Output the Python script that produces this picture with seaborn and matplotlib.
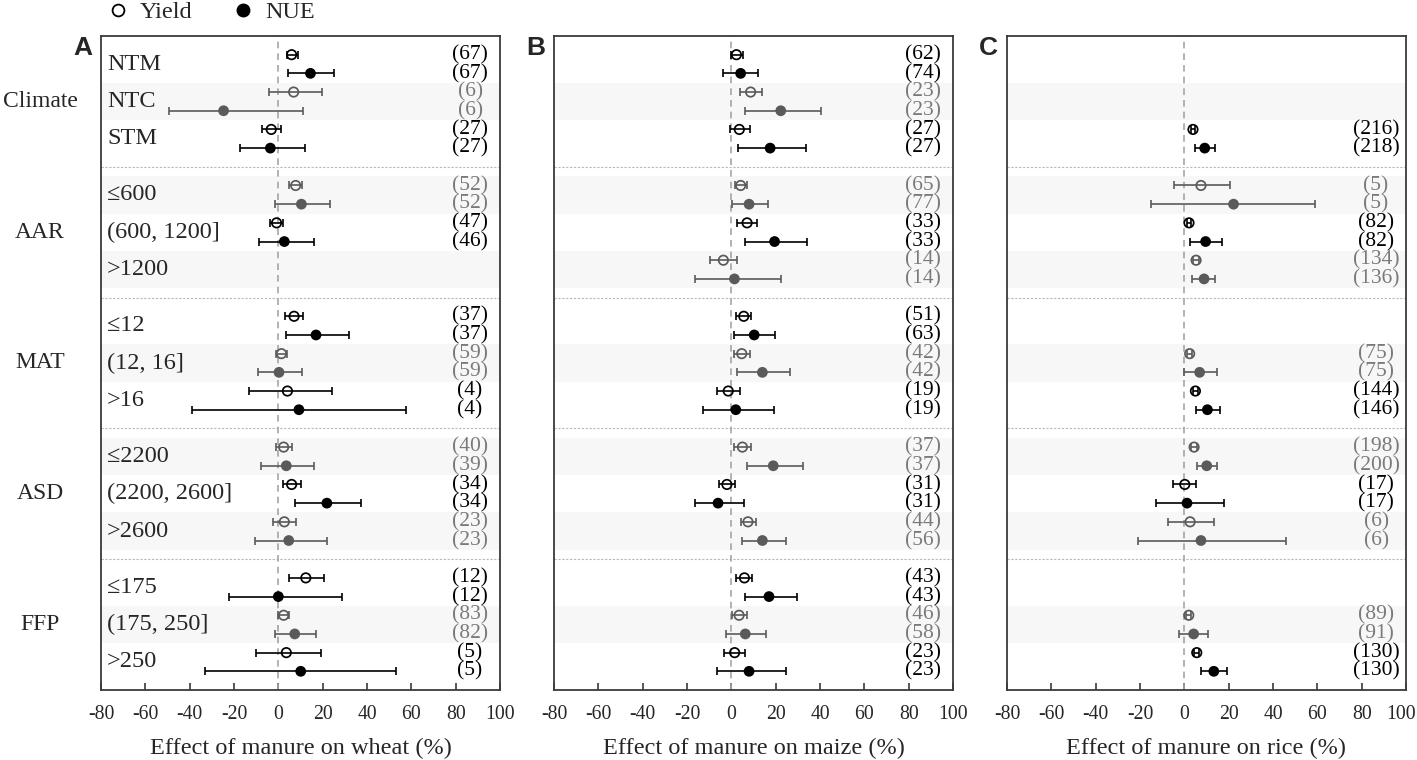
import numpy as np
import pandas as pd
import matplotlib
matplotlib.use("Agg")
import matplotlib.pyplot as plt
import seaborn as sns
from matplotlib.lines import Line2D
import matplotlib.transforms as mtransforms

nan = np.nan

groups = ["Climate", "AAR", "MAT", "ASD", "FFP"]
subgroups = ["NTM", "NTC", "STM",
             "≤600", "(600, 1200]", ">1200",
             "≤12", "(12, 16]", ">16",
             "≤2200", "(2200, 2600]", ">2600",
             "≤175", "(175, 250]", ">250"]
crops = ["wheat", "maize", "rice"]
panel_letters = ["A", "B", "C"]

# ---- wheat ----
yield_mean_wheat = [6.0, 6.9, -3.2, 7.8, -0.8, nan, 7.1, 1.4, 4.1, 2.4, 6.0, 2.7, 12.4, 2.4, 3.6]
yield_lo_wheat = [3.8, -4.2, -7.5, 5.0, -3.8, nan, 3.0, -1.1, -13.1, -1.2, 2.0, -2.3, 4.8, 0.0, -10.3]
yield_hi_wheat = [9.0, 19.6, 1.1, 10.9, 2.3, nan, 11.0, 4.1, 24.3, 6.2, 10.3, 7.8, 20.5, 4.8, 19.3]
nue_mean_wheat = [14.5, -24.7, -3.6, 10.4, 2.7, nan, 17.0, 0.3, 9.3, 3.6, 21.9, 4.7, 0.0, 7.4, 10.1]
nue_lo_wheat = [4.4, -49.1, -17.2, -1.5, -8.7, nan, 3.3, -9.0, -39.0, -7.7, 7.7, -10.4, -22.3, -1.7, -33.0]
nue_hi_wheat = [25.3, 11.3, 12.1, 23.2, 16.0, nan, 32.1, 10.6, 57.7, 16.1, 37.4, 21.9, 28.8, 17.0, 53.1]
yield_n_wheat = [67, 6, 27, 52, 47, nan, 37, 59, 4, 40, 34, 23, 12, 83, 5]
nue_n_wheat = [67, 6, 27, 52, 46, nan, 37, 59, 4, 39, 34, 23, 12, 82, 5]

# ---- maize ----
yield_mean_maize = [2.3, 8.7, 3.6, 4.2, 7.1, -3.6, 5.6, 4.7, -1.4, 5.0, -2.0, 7.5, 5.9, 3.5, 1.5]
yield_lo_maize = [-0.3, 3.8, -0.8, 1.7, 2.7, -9.8, 2.3, 1.1, -6.5, 1.4, -5.7, 4.2, 2.3, 0.3, -3.5]
yield_hi_maize = [5.1, 13.9, 8.3, 7.1, 11.6, 2.6, 8.7, 8.4, 3.9, 8.9, 1.8, 11.2, 9.5, 7.1, 6.3]
nue_mean_maize = [4.2, 22.3, 17.5, 8.0, 19.5, 1.4, 10.3, 14.0, 2.0, 18.9, -6.0, 14.0, 17.0, 6.3, 8.0]
nue_lo_maize = [-3.6, 6.3, 3.0, 0.2, 6.3, -16.3, 1.4, 2.7, -13.0, 6.9, -16.6, 4.8, 6.0, -2.6, -6.3]
nue_hi_maize = [12.2, 40.6, 33.5, 16.6, 34.1, 22.3, 19.7, 26.5, 19.3, 32.3, 5.9, 24.7, 29.4, 15.8, 24.7]
yield_n_maize = [62, 23, 27, 65, 33, 14, 51, 42, 19, 37, 31, 44, 43, 46, 23]
nue_n_maize = [74, 23, 27, 77, 33, 14, 63, 42, 19, 37, 31, 56, 43, 58, 23]

# ---- rice ----
yield_mean_rice = [nan, nan, 3.9, 7.5, 2.1, 5.3, nan, 2.4, 5.0, 4.4, 0.2, 2.6, nan, 2.0, 5.6]
yield_lo_rice = [nan, nan, 2.9, -4.7, 1.1, 4.1, nan, 1.4, 3.9, 3.2, -5.0, -7.2, nan, 0.9, 4.4]
yield_hi_rice = [nan, nan, 5.0, 20.4, 3.2, 6.5, nan, 3.5, 6.0, 5.6, 5.3, 13.4, nan, 3.0, 6.8]
nue_mean_rice = [nan, nan, 9.2, 22.2, 9.6, 8.9, nan, 6.9, 10.4, 10.1, 1.2, 7.5, nan, 4.2, 13.3]
nue_lo_rice = [nan, nan, 5.0, -14.9, 2.7, 3.5, nan, -0.2, 5.4, 5.6, -13.0, -20.8, nan, -2.3, 7.5]
nue_hi_rice = [nan, nan, 13.7, 58.9, 17.0, 14.0, nan, 14.6, 16.0, 14.6, 17.8, 46.0, nan, 10.7, 19.1]
yield_n_rice = [nan, nan, 216, 5, 82, 134, nan, 75, 144, 198, 17, 6, nan, 89, 130]
nue_n_rice = [nan, nan, 218, 5, 82, 136, nan, 75, 146, 200, 17, 6, nan, 91, 130]

x_ticks = [-80, -60, -40, -20, 0, 20, 40, 60, 80, 100]

panel_data = {
    "wheat": (yield_mean_wheat, yield_lo_wheat, yield_hi_wheat, nue_mean_wheat, nue_lo_wheat, nue_hi_wheat, yield_n_wheat, nue_n_wheat),
    "maize": (yield_mean_maize, yield_lo_maize, yield_hi_maize, nue_mean_maize, nue_lo_maize, nue_hi_maize, yield_n_maize, nue_n_maize),
    "rice": (yield_mean_rice, yield_lo_rice, yield_hi_rice, nue_mean_rice, nue_lo_rice, nue_hi_rice, yield_n_rice, nue_n_rice),
}

sns.set_style("ticks")
plt.rcParams["font.family"] = ["Liberation Serif", "DejaVu Serif"]
plt.rcParams["axes.unicode_minus"] = False

BLACK = "#000000"
GREY = "#5a5a5a"
GREY_TXT = "#7a7a7a"
SPINE = "#3a3a3a"
palette = {"no": BLACK, "yes": GREY}


def build_frame(crop):
    ym, yl, yh, nm, nl, nh, yn, nn = panel_data[crop]
    rows = []
    for i in range(len(subgroups)):
        g, s = divmod(i, 3)
        shade = "yes" if i % 2 == 1 else "no"
        base = 7 * g + 2 * s + 1
        rows.append(dict(sub=i, metric="Yield", y=base, mean=ym[i], lo=yl[i], hi=yh[i], n=yn[i], shade=shade))
        rows.append(dict(sub=i, metric="NUE", y=base + 1, mean=nm[i], lo=nl[i], hi=nh[i], n=nn[i], shade=shade))
    return pd.DataFrame(rows)


fig = plt.figure(figsize=(14.17, 7.6), dpi=100)
lefts = [101 / 1417, 554 / 1417, 1007 / 1417]
W = 399 / 1417
B = 70 / 760
H = 654 / 760

for k, crop in enumerate(crops):
    ax = fig.add_axes([lefts[k], B, W, H])
    df = build_frame(crop)

    # background bands and separators
    for i in range(len(subgroups)):
        if i % 2 == 1:
            g, s = divmod(i, 3)
            base = 7 * g + 2 * s + 1
            ax.axhspan(base - 0.5, base + 1.5, color="#f7f7f7", lw=0, zorder=0)
    for g in range(1, len(groups)):
        ax.axhline(7 * g, color="#b8b8b8", lw=0.8, ls=(0, (2, 1.5)), zorder=1)
    ax.axvline(0, color="#a5a5a5", lw=1.2, ls=(0, (4, 3)), zorder=1)

    valid = df.dropna(subset=["mean"])
    for shade, col in palette.items():
        d = valid[valid["shade"] == shade]
        if len(d):
            ax.errorbar(d["mean"], d["y"], xerr=[d["mean"] - d["lo"], d["hi"] - d["mean"]],
                        fmt="none", ecolor=col, elinewidth=1.2, capsize=2.6, capthick=1.2, zorder=2)

    dn = valid[valid["metric"] == "NUE"]
    sns.scatterplot(data=dn, x="mean", y="y", hue="shade", palette=palette, s=60,
                    marker="o", linewidth=0, legend=False, ax=ax, zorder=3)
    dy = valid[valid["metric"] == "Yield"]
    sns.scatterplot(data=dy, x="mean", y="y", hue="shade", palette=palette, s=46,
                    marker="o", legend=False, ax=ax, zorder=3)
    coll = ax.collections[-1]
    fc = coll.get_facecolors()
    coll.set_edgecolors(fc)
    coll.set_facecolors("none")
    coll.set_linewidths(1.25)

    # counts
    tr = mtransforms.blended_transform_factory(ax.transAxes, ax.transData)
    for _, r in df.dropna(subset=["n"]).iterrows():
        ax.text(0.925, r["y"], f"({int(r['n'])})", transform=tr,
                ha="center", va="center", fontsize=15.5,
                color=GREY_TXT if r["shade"] == "yes" else BLACK)

    ax.set_xlim(-80, 100)
    ax.set_ylim(35, 0)
    ax.set_xticks(x_ticks)
    ax.set_yticks([])
    ax.set_xlabel("")
    ax.set_ylabel("")
    ax.tick_params(axis="x", direction="in", length=5, width=1.2, color=SPINE,
                   labelsize=14.2, pad=11, top=False)
    for sp in ax.spines.values():
        sp.set_visible(True)
        sp.set_color(SPINE)
        sp.set_linewidth(1.3)
    ax.set_xlabel(f"Effect of manure on {crop} (%)", fontsize=17.5, labelpad=10)

    if k == 2:
        last = ax.get_xticklabels()[-1]
        last.set_transform(last.get_transform() +
                           mtransforms.ScaledTranslation(-5 / 100, 0, fig.dpi_scale_trans))

    ax.text(-0.022, 1.0, panel_letters[k], transform=ax.transAxes, ha="right", va="top",
            fontsize=19, fontweight="bold", family=["Liberation Sans", "DejaVu Sans"])

    if k == 0:
        for i, lab in enumerate(subgroups):
            g, s = divmod(i, 3)
            ax.text(0.015, 7 * g + 2 * s + 1.5, lab, transform=tr, ha="left", va="center", fontsize=17.5)
        for g, lab in enumerate(groups):
            ax.text(-0.153, 7 * g + 3.5, lab, transform=tr, ha="center", va="center", fontsize=17, clip_on=False)

handles = [Line2D([], [], marker="o", ls="none", mfc="none", mec="k", mew=1.3, ms=8.5, label="Yield"),
           Line2D([], [], marker="o", ls="none", mfc="k", mec="k", ms=9, label="NUE")]
fig.legend(handles=handles, loc="center left", bbox_to_anchor=(0.059, 0.984), ncol=2, frameon=False,
           handletextpad=0.4, columnspacing=1.6, handlelength=1.0, prop={"size": 17.5})

fig.savefig("out.png", dpi=100)
